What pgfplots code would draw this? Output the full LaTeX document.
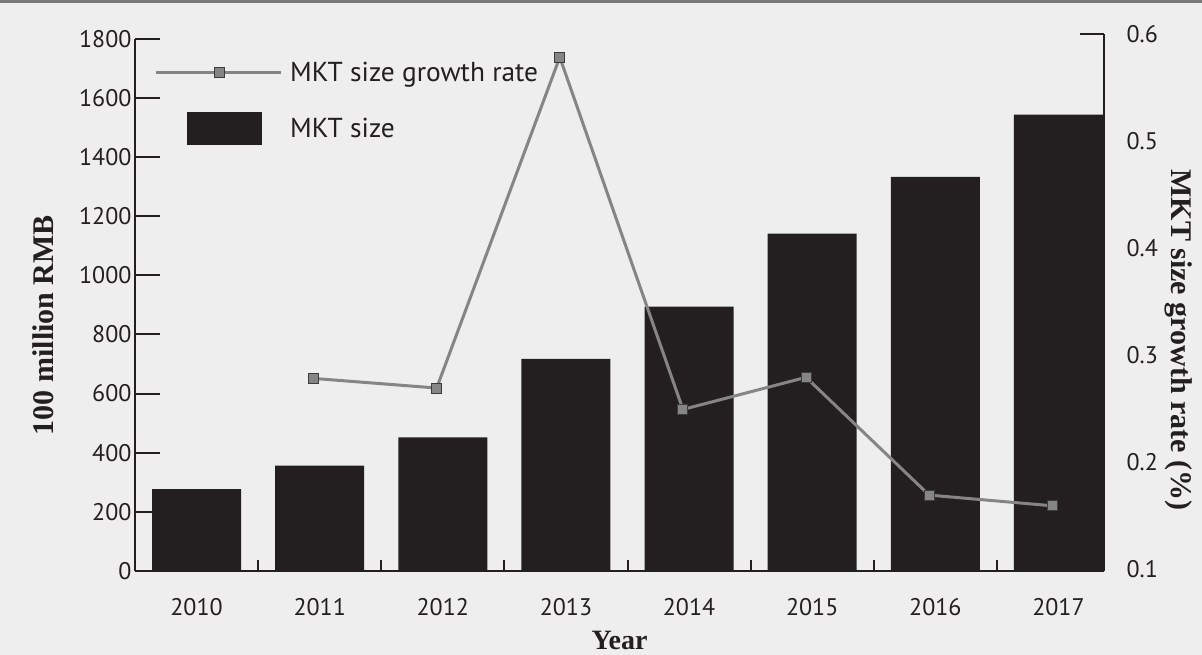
\documentclass[border=0pt]{standalone}
\usepackage{pgfplots}
\pgfplotsset{compat=1.18}
\usepackage{fontspec}
\setmainfont{PT Sans}
\newfontfamily\labelfont{Liberation Serif}
\definecolor{bg}{HTML}{EEEEEE}
\definecolor{topbar}{HTML}{797979}
\definecolor{ink}{HTML}{231F20}
\definecolor{linegray}{HTML}{858585}
\definecolor{markedge}{HTML}{3C3C3C}

% market size, 100 million RMB
\pgfplotstableread{
x size
0 277
1 356
2 452
3 717
4 894
5 1141
6 1333
7 1543
}\sizedata

% growth rate (points sit a little left of the bar centres)
\pgfplotstableread{
x rate
0.95 0.278
1.95 0.269
2.95 0.578
3.95 0.249
4.95 0.279
5.95 0.169
6.95 0.159
}\ratedata

\pgfplotsset{
  common/.style={
    scale only axis, width=969pt,
    xmin=-0.5, xmax=7.37,
    axis line style={draw=ink, line width=2pt, -},
    tick style={draw=ink, line width=2pt},
    /pgf/number format/assume math mode=true,
    ticklabel style={font=\fontsize{24}{28}\selectfont, text=ink},
  },
  nolinearrows/.style={
    every outer x axis line/.append style={-},
    every outer y axis line/.append style={-},
    every inner x axis line/.append style={-},
    every inner y axis line/.append style={-},
  },
  rate legend/.style={
    legend image code/.code={
      \draw[mark repeat=2, mark phase=2, ##1] plot coordinates {(0pt,0pt) (64pt,0pt) (125pt,0pt)};
    },
  },
  size legend/.style={
    legend image code/.code={\fill[ink] (31pt,-16pt) rectangle (105pt,16pt);},
  },
}

\begin{document}
\begin{tikzpicture}
\fill[bg] (0pt,0pt) rectangle (1202pt,655pt);
\fill[topbar] (0pt,652pt) rectangle (1202pt,655pt);
\useasboundingbox (0pt,0pt) rectangle (1202pt,655pt);

\begin{axis}[
  common,
  at={(135pt,84pt)}, anchor=south west,
  height=532.3pt,
  ymin=0, ymax=1800,
  axis x line=bottom, axis y line=left, nolinearrows,
  tick align=inside,
  major tick length=25pt,
  ytick={0,200,...,1800},
  yticklabels={0,200,400,600,800,1000,1200,1400,1600,1800},
  xtick={0,...,7},
  xticklabels={2010,2011,2012,2013,2014,2015,2016,2017},
  xtick style={draw=none},
  extra x ticks={0.5,1.5,...,6.5},
  extra x tick labels={},
  extra x tick style={tick align=inside, xtick style={draw=ink}, major tick length=11pt},
  xticklabel style={yshift=-24pt},
  xlabel={\labelfont\bfseries Year},
  ylabel={\labelfont\bfseries 100 million RMB},
  every axis x label/.style={at={(rel axis cs:0.5,0)}, yshift=-69pt, anchor=center,
    font=\fontsize{28}{32}\selectfont, text=ink},
  every axis y label/.style={at={(rel axis cs:0,0.462)}, xshift=-92pt, anchor=center,
    rotate=90, font=\fontsize{30}{34}\selectfont, text=ink},
]
\addplot[ybar, bar width=89pt, fill=ink, draw=none] table[x=x, y=size] {\sizedata};
\end{axis}

\begin{axis}[
  common,
  at={(135pt,84pt)}, anchor=south west,
  height=537.3pt,
  ymin=0.0981, ymax=0.6,
  axis x line=none, axis y line=right, nolinearrows,
  tick align=inside,
  major tick length=24pt,
  ytick={0.1,0.2,0.3,0.4,0.5,0.6},
  yticklabels={0.1,0.2,0.3,0.4,0.5,0.6},
  yticklabel style={xshift=19pt},
  ylabel={\labelfont\bfseries MKT size growth rate (\%)},
  every axis y label/.style={at={(rel axis cs:1,0.43)}, xshift=75pt, anchor=center,
    rotate=-90, font=\fontsize{30}{34}\selectfont, text=ink},
  legend style={at={(rel axis cs:0.0196,0.9505)}, anchor=north west,
    draw=none, fill=none, inner sep=0pt, row sep=27pt, column sep=6pt,
    font=\fontsize{27.4}{31}\selectfont, text=ink},
  legend cell align=left,
]
\addplot[linegray, line width=3pt, mark=square*, mark size=5pt,
  mark options={fill=linegray, draw=markedge, line width=1pt},
  rate legend] table[x=x, y=rate] {\ratedata};
\addlegendentry{MKT size growth rate}
\addlegendimage{size legend}
\addlegendentry{MKT size}
\end{axis}
\end{tikzpicture}
\end{document}
